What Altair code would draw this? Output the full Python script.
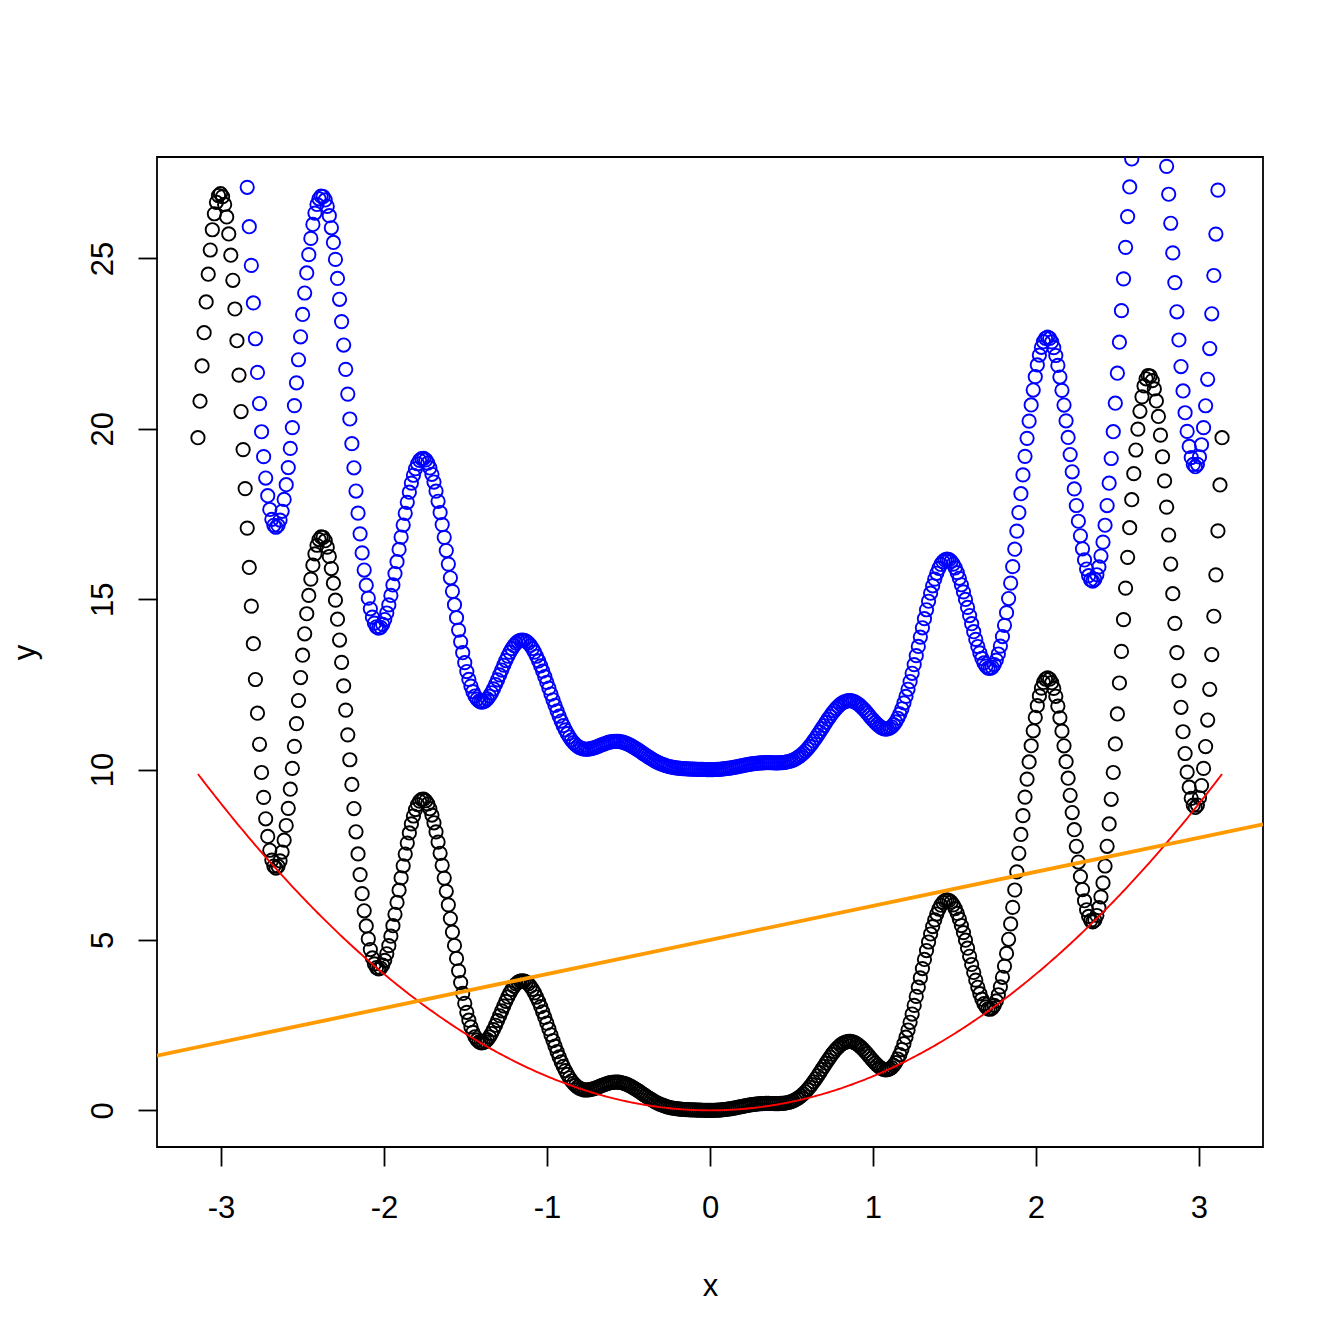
import numpy as np
import pandas as pd
import altair as alt

# Values: 500 evenly spaced x over [-pi, pi];
# black points follow x^2*(2+sin(10x)) (checked against troughs/peaks),
# blue points are the black ones shifted up by 10, red curve is x^2,
# orange straight line has intercept 5 and slope 1.
N_POINTS = 500
X_START, X_END = -np.pi, np.pi
WAVE_FREQ = 10
BLUE_SHIFT = 10
LINE_INTERCEPT = 5
LINE_SLOPE = 1
x_tick_values = [-3, -2, -1, 0, 1, 2, 3]
y_tick_values = [0, 5, 10, 15, 20, 25]

x_vals = np.linspace(X_START, X_END, N_POINTS)
y_black = x_vals ** 2 * (2 + np.sin(WAVE_FREQ * x_vals))
y_blue = y_black + BLUE_SHIFT
y_red = x_vals ** 2

# R-style 4% axis expansion
xr = x_vals.max() - x_vals.min()
x_dom = [x_vals.min() - 0.04 * xr, x_vals.max() + 0.04 * xr]
yr = y_black.max() - y_black.min()
y_dom = [y_black.min() - 0.04 * yr, y_black.max() + 0.04 * yr]

df_black = pd.DataFrame({"x": x_vals, "y": y_black})
df_blue = pd.DataFrame({"x": x_vals, "y": y_blue})
df_red = pd.DataFrame({"x": x_vals, "y": y_red})
df_line = pd.DataFrame({"x": x_dom, "y": [LINE_INTERCEPT + LINE_SLOPE * v for v in x_dom]})

FONT = "Liberation Sans"
FS = 31

xs = alt.Scale(domain=x_dom, nice=False, zero=False)
ys = alt.Scale(domain=y_dom, nice=False, zero=False)

xaxis = alt.Axis(
    values=x_tick_values, labelExpr="datum.value + ''", grid=False, domain=False,
    ticks=True, tickSize=19, tickWidth=1.8, tickColor="black",
    labelFont=FONT, labelFontSize=FS, labelColor="black", labelBaseline="alphabetic",
    labelPadding=51, labelAlign="center", labelFlush=False, labelOverlap=False,
    title="x", titleFont=FONT, titleFontSize=FS, titleFontWeight="normal", titleColor="black",
    titleBaseline="alphabetic", titleY=148, titleX=553, titleAlign="center",
)
yaxis = alt.Axis(
    values=y_tick_values, labelExpr="datum.value + ''", grid=False, domain=False,
    ticks=True, tickSize=19, tickWidth=1.8, tickColor="black",
    labelFont=FONT, labelFontSize=FS, labelColor="black", labelAngle=270,
    labelAlign="center", labelBaseline="alphabetic", labelPadding=26,
    labelFlush=False, labelOverlap=False,
    title="y", titleFont=FONT, titleFontSize=FS, titleFontWeight="normal", titleColor="black",
    titleAngle=270, titleBaseline="alphabetic", titleAlign="center", titleX=-123, titleY=495,
)

enc_x = alt.X("x:Q", scale=xs, axis=xaxis)
enc_y = alt.Y("y:Q", scale=ys, axis=yaxis)

black = alt.Chart(df_black).mark_point(
    shape="circle", filled=False, size=177, strokeWidth=1.9, color="black", opacity=1, clip=True
).encode(x=enc_x, y=enc_y)

blue = alt.Chart(df_blue).mark_point(
    shape="circle", filled=False, size=177, strokeWidth=1.9, color="#0000FF", opacity=1, clip=True
).encode(x=enc_x, y=enc_y)

red = alt.Chart(df_red).mark_line(color="#FF0000", strokeWidth=1.9, clip=True).encode(x=enc_x, y=enc_y)

orange = alt.Chart(df_line).mark_line(color="#FF9A00", strokeWidth=3.8, clip=True).encode(x=enc_x, y=enc_y)

chart = alt.layer(black, blue, red, orange).properties(
    width=1106, height=990,
    autosize=alt.AutoSizeParams(type="none"),
    padding={"left": 149, "top": 149, "right": 70, "bottom": 185},
    background="white",
).configure_view(stroke="black", strokeWidth=1.8, fill="white")

chart.save("out.html", embed_options={"renderer": "svg", "actions": False})
